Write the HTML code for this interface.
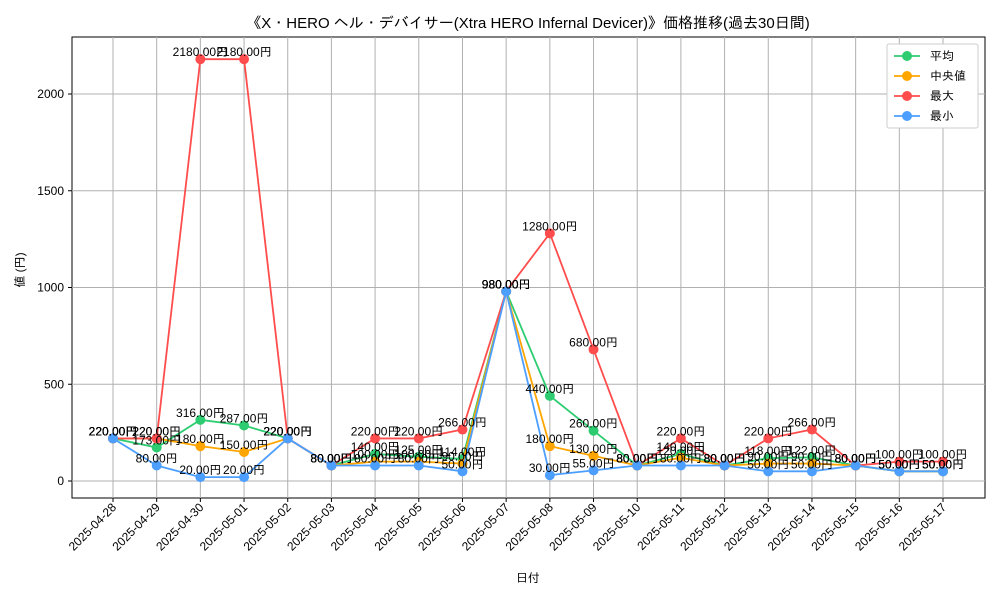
<!DOCTYPE html>
<html><head><meta charset="utf-8"><style>
body{margin:0;background:#fff}
svg text{font-family:"Liberation Sans","IPAGothic","Noto Sans CJK JP",sans-serif;fill:#000}
</style></head><body>
<svg id="c" width="1000" height="600" xmlns="http://www.w3.org/2000/svg">
<text x="528" y="28" font-size="15" text-anchor="middle">《X・HERO ヘル・デバイサー(Xtra HERO Infernal Devicer)》価格推移(過去30日間)</text>
<rect x="72" y="37" width="913" height="461" fill="none" stroke="#000" stroke-width="1"/>
<g id="grid"></g><g id="series"></g><g id="labels"></g>
<text x="528" y="582" font-size="12" text-anchor="middle">日付</text>
<text transform="translate(24,270) rotate(-90)" font-size="12" text-anchor="middle">値 (円)</text>
<g>
<rect x="887" y="44" width="91" height="84" fill="#fff" stroke="#ccc" rx="2"/>
<g id="legend"></g></g>
</svg>
<script>
const dates=["2025-04-28","2025-04-29","2025-04-30","2025-05-01","2025-05-02","2025-05-03","2025-05-04","2025-05-05","2025-05-06","2025-05-07","2025-05-08","2025-05-09","2025-05-10","2025-05-11","2025-05-12","2025-05-13","2025-05-14","2025-05-15","2025-05-16","2025-05-17"];
const avgVals=[220,173,316,287,220,80,140,125,114,980,440,260,80,140,80,118,122,80,50,50];
const medVals=[220,220,180,150,220,80,100,100,90,980,180,130,80,120,80,90,90,80,50,50];
const maxVals=[220,220,2180,2180,220,80,220,220,266,980,1280,680,80,220,80,220,266,80,100,100];
const minVals=[220,80,20,20,220,80,80,80,50,980,30,55,80,80,80,50,50,80,50,50];
const yTicks=[0,500,1000,1500,2000];
const names=["平均","中央値","最大","最小"];
const NS="http://www.w3.org/2000/svg";
const X=i=>113+i*(943-113)/19;
const Y=v=>481-v*(481-94)/2000;
function mk(t,a,p){const e=document.createElementNS(NS,t);for(const k in a)e.setAttribute(k,a[k]);p.appendChild(e);return e;}
const grid=document.getElementById('grid');
yTicks.forEach(v=>{
 const l=mk('line',{x1:72,x2:985,y1:Y(v),y2:Y(v),stroke:'#b0b0b0'},grid);
 
 
 mk('line',{x1:68,x2:72,y1:Y(v),y2:Y(v),stroke:'#000'},grid);
 const t=mk('text',{x:64,y:Y(v)+4,'font-size':12,'text-anchor':'end'},grid);t.textContent=v;
 
 
});
dates.forEach((d,i)=>{
 const l=mk('line',{x1:X(i),x2:X(i),y1:37,y2:498,stroke:'#b0b0b0'},grid);
 
 
 mk('line',{x1:X(i),x2:X(i),y1:498,y2:502,stroke:'#000'},grid);
 const t=mk('text',{x:X(i)+4,y:508,'font-size':12,'text-anchor':'end',transform:`rotate(-45 ${X(i)+4} 508)`},grid);t.textContent=d;
 
 
});
const sets=[[avgVals,'#2ecc71'],[medVals,'#ffa500'],[maxVals,'#ff4d4d'],[minVals,'#4d9fff']];
const sg=document.getElementById('series'),lg=document.getElementById('labels'),leg=document.getElementById('legend');
sets.forEach(([vals,col],s)=>{
 const g=mk('g',{},sg);
 
 
 mk('polyline',{points:vals.map((v,i)=>X(i)+','+Y(v)).join(' '),fill:'none',stroke:col,'stroke-width':1.8},g);
 vals.forEach((v,i)=>{
  const c=mk('circle',{cx:X(i),cy:Y(v),r:5,fill:col},g);
  
  
  const t=mk('text',{x:X(i),y:Y(v)-3,'font-size':12,'text-anchor':'middle'},lg);t.textContent=v.toFixed(2)+'円';
  
  
 });
 const ly=56+s*20;
 const le=mk('g',{},leg);
 
 
 mk('line',{x1:894,x2:920,y1:ly,y2:ly,stroke:col,'stroke-width':1.8},le);
 mk('circle',{cx:907,cy:ly,r:5,fill:col},le);
 const t=mk('text',{x:930,y:ly+4,'font-size':12},le);t.textContent=names[s];
});
</script>
</body></html>
